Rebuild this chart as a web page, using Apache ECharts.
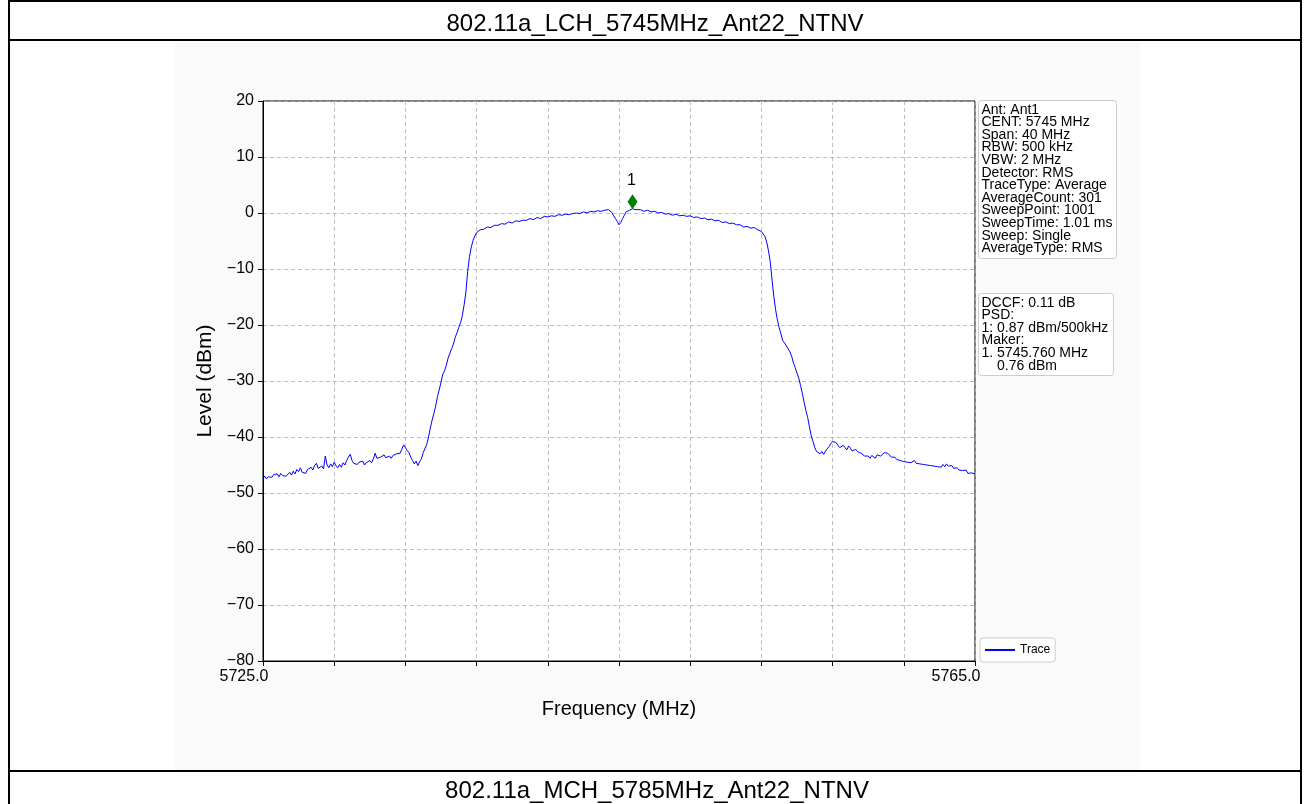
<!DOCTYPE html>
<html>
<head>
<meta charset="utf-8">
<script src="https://cdn.jsdelivr.net/npm/echarts@6/dist/echarts.min.js"></script>
<style>
html,body{margin:0;padding:0;background:#fff;}
#chart{width:1310px;height:804px;}
</style>
</head>
<body>
<div id="chart"></div>
<script>
const titleTop = '802.11a_LCH_5745MHz_Ant22_NTNV';
const titleBottom = '802.11a_MCH_5785MHz_Ant22_NTNV';
const freqStart = 5725.0;
const freqStop = 5765.0;
const yTicks = [-80, -70, -60, -50, -40, -30, -20, -10, 0, 10, 20];
const markerFreq = 5745.76;
const markerLevel = 0.76;
const infoLines1 = ['Ant: Ant1','CENT: 5745 MHz','Span: 40 MHz','RBW: 500 kHz','VBW: 2 MHz','Detector: RMS','TraceType: Average','AverageCount: 301','SweepPoint: 1001','SweepTime: 1.01 ms','Sweep: Single','AverageType: RMS'];
const infoLines2 = ['DCCF: 0.11 dB','PSD:','1: 0.87 dBm/500kHz','Maker:','1. 5745.760 MHz','    0.76 dBm'];

// [frequency MHz, level dBm]
const traceLeftFloor = [
[5725.0,-47.4],[5725.1,-47.0],[5725.2,-47.5],[5725.3,-47.1],[5725.4,-46.8],[5725.5,-47.2],[5725.6,-46.7],[5725.7,-47.0],
[5725.8,-46.6],[5725.9,-47.1],[5726.0,-46.5],[5726.1,-46.9],[5726.2,-46.6],[5726.3,-47.0],[5726.4,-46.7],[5726.5,-46.3],
[5726.6,-46.8],[5726.7,-46.1],[5726.8,-46.6],[5726.9,-45.8],[5727.0,-46.2],[5727.1,-45.5],[5727.2,-46.3],[5727.3,-46.0],
[5727.4,-46.5],[5727.5,-45.8],[5727.6,-46.1],[5727.7,-45.4],[5727.8,-45.9],[5727.9,-45.1],[5728.0,-44.7],[5728.1,-45.6],
[5728.2,-45.9],[5728.3,-45.2],[5728.4,-45.7],[5728.5,-43.4],[5728.6,-45.0],[5728.7,-45.5],[5728.8,-44.8],[5728.9,-45.3],
[5729.0,-44.5],[5729.1,-45.1],[5729.2,-45.5],[5729.3,-44.9],[5729.4,-45.4],[5729.5,-44.6],[5729.6,-45.0],[5729.7,-44.2],
[5729.8,-43.6],[5729.9,-43.1],[5730.0,-44.2],[5730.1,-44.7],[5730.2,-44.4],[5730.3,-44.9],[5730.4,-44.5],[5730.5,-44.8],
[5730.6,-44.3],[5730.7,-45.0],[5730.8,-44.6],[5730.9,-44.9],[5731.0,-44.2],[5731.1,-44.6],[5731.2,-43.9],[5731.3,-42.9],
[5731.4,-43.8],[5731.5,-44.1],[5731.6,-43.6],[5731.7,-43.9],[5731.8,-43.2],[5731.9,-43.7],[5732.0,-43.9],[5732.1,-43.4],
[5732.2,-43.8],[5732.3,-43.3],[5732.4,-43.6],[5732.5,-43.0],[5732.6,-42.7],[5732.7,-42.9],[5732.8,-42.2],[5732.9,-41.4],
[5733.0,-41.9],[5733.1,-42.4],[5733.2,-42.8],[5733.3,-43.6],[5733.4,-44.2],[5733.5,-44.8],[5733.6,-44.3],[5733.7,-45.1],
[5733.8,-44.4],[5733.9,-43.9],[5734.0,-42.8]
];
const traceLeftSkirt = [
[5734.1,-42.9],[5734.2,-41.3],[5734.3,-40.0],[5734.4,-38.4],[5734.5,-37.0],[5734.6,-35.8],[5734.7,-34.5],[5734.8,-32.8],
[5734.9,-31.6],[5735.0,-30.2],[5735.1,-28.8],[5735.2,-28.2],[5735.3,-27.2],[5735.4,-25.9],[5735.5,-25.6],[5735.6,-24.2],
[5735.7,-23.4],[5735.8,-22.2],[5735.9,-21.4],[5736.0,-20.4],[5736.1,-19.6],[5736.2,-18.3],[5736.3,-16.4],[5736.4,-14.1],
[5736.5,-10.4],[5736.6,-7.8],[5736.7,-6.1],[5736.8,-4.9],[5736.9,-4.1]
];
const traceTop = [
[5737.0,-3.5],[5737.2,-3.0],[5737.4,-2.9],[5737.6,-2.5],[5737.8,-2.6],[5738.0,-2.2],[5738.2,-2.2],[5738.4,-1.9],
[5738.6,-2.0],[5738.8,-1.6],[5739.0,-1.8],[5739.2,-1.4],[5739.4,-1.5],[5739.6,-1.3],[5739.8,-1.3],[5740.0,-1.0],
[5740.2,-1.2],[5740.4,-0.8],[5740.6,-1.0],[5740.8,-0.6],[5741.0,-0.7],[5741.2,-0.5],[5741.4,-0.6],[5741.6,-0.3],
[5741.8,-0.4],[5742.0,-0.2],[5742.2,-0.3],[5742.4,-0.1],[5742.6,0.0],[5742.8,-0.1],[5743.0,0.2],[5743.2,0.0],
[5743.4,0.3],[5743.6,0.2],[5743.8,0.4],[5744.0,0.3],[5744.2,0.5],[5744.4,0.6],[5744.5,0.5],[5744.6,0.1],
[5744.7,-0.5],[5744.8,-1.0],[5744.9,-1.5],[5745.0,-2.1],[5745.1,-1.7],[5745.2,-1.0],[5745.3,-0.4],[5745.4,0.2],
[5745.5,0.4],[5745.6,0.5],[5745.76,0.76],[5745.9,0.6],[5746.0,0.5],[5746.2,0.6],[5746.4,0.3],[5746.6,0.5],
[5746.8,0.2],[5747.0,0.3],[5747.2,0.0],[5747.4,0.1],[5747.6,-0.2],[5747.8,-0.1],[5748.0,-0.4],[5748.2,-0.2],
[5748.4,-0.5],[5748.6,-0.4],[5748.8,-0.6],[5749.0,-0.5],[5749.2,-0.8],[5749.4,-0.7],[5749.6,-1.0],[5749.8,-0.9],
[5750.0,-1.2],[5750.2,-1.1],[5750.4,-1.4],[5750.6,-1.3],[5750.8,-1.7],[5751.0,-1.6],[5751.2,-1.9],[5751.4,-1.8],
[5751.6,-2.1],[5751.8,-2.1],[5752.0,-2.5],[5752.2,-2.4],[5752.4,-2.7],[5752.6,-2.6],[5752.8,-3.0],[5753.0,-3.3]
];
const traceRightSkirt = [
[5753.1,-3.6],[5753.2,-4.2],[5753.3,-5.2],[5753.4,-6.8],[5753.5,-8.8],[5753.6,-12.0],[5753.7,-15.0],[5753.8,-17.3],
[5753.9,-19.1],[5754.0,-20.5],[5754.1,-21.6],[5754.2,-22.8],[5754.3,-23.2],[5754.4,-23.7],[5754.5,-24.0],[5754.6,-24.8],
[5754.7,-25.6],[5754.8,-26.8],[5754.9,-27.6],[5755.0,-28.6],[5755.1,-29.5],[5755.2,-30.8],[5755.3,-32.2],[5755.4,-33.8],
[5755.5,-35.3],[5755.6,-36.5],[5755.7,-38.2],[5755.8,-39.8],[5755.9,-40.8]
];
const traceRightFloor = [
[5756.0,-41.9],[5756.1,-42.6],[5756.2,-42.3],[5756.3,-43.0],[5756.4,-42.6],[5756.5,-43.1],[5756.6,-42.5],[5756.7,-42.2],
[5756.8,-41.7],[5756.9,-41.2],[5757.0,-40.8],[5757.1,-40.5],[5757.2,-41.0],[5757.3,-41.5],[5757.4,-41.9],[5757.5,-42.1],
[5757.6,-41.5],[5757.7,-41.9],[5757.8,-42.3],[5757.9,-41.6],[5758.0,-42.0],[5758.1,-42.5],[5758.2,-42.7],[5758.3,-42.2],
[5758.4,-42.6],[5758.5,-42.4],[5758.6,-42.9],[5758.7,-43.1],[5758.8,-43.4],[5758.9,-43.7],[5759.0,-43.4],[5759.1,-43.8],
[5759.2,-43.3],[5759.3,-43.6],[5759.4,-43.8],[5759.5,-43.2],[5759.6,-43.0],[5759.7,-43.4],[5759.8,-43.1],[5759.9,-42.8],
[5760.0,-42.5],[5760.1,-42.9],[5760.2,-43.2],[5760.3,-43.6],[5760.4,-43.9],[5760.5,-43.6],[5760.6,-44.0],[5760.7,-43.8],
[5760.8,-44.2],[5760.9,-44.0],[5761.0,-44.4],[5761.1,-44.1],[5761.2,-44.5],[5761.3,-44.2],[5761.4,-44.6],[5761.5,-44.3],
[5761.6,-44.2],[5761.7,-44.7],[5761.8,-44.4],[5761.9,-44.8],[5762.0,-44.5],[5762.1,-44.9],[5762.2,-44.6],[5762.3,-45.0],
[5762.4,-44.7],[5762.5,-45.1],[5762.6,-44.8],[5762.7,-45.2],[5762.8,-44.9],[5762.9,-45.3],[5763.0,-45.0],[5763.1,-45.4],
[5763.2,-44.9],[5763.3,-45.3],[5763.4,-44.8],[5763.5,-45.2],[5763.6,-45.4],[5763.7,-45.1],[5763.8,-45.6],[5763.9,-45.3],
[5764.0,-45.5],[5764.1,-45.9],[5764.2,-45.6],[5764.3,-46.0],[5764.4,-46.2],[5764.5,-45.9],[5764.6,-46.5],[5764.7,-46.2],
[5764.8,-46.4],[5764.9,-46.1],[5765.0,-46.6]
];

const FONT = '"Liberation Sans", Arial, sans-serif';
const chart = echarts.init(document.getElementById('chart'), null, {renderer: 'canvas'});
const span = freqStop - freqStart;
const trace = [].concat(traceLeftFloor, traceLeftSkirt, traceTop, traceRightSkirt, traceRightFloor);
const seriesData = trace.map(p => [p[0] - freqStart, p[1]]);
const fmtY = v => (v < 0 ? '\u2212' + Math.abs(v) : String(v));

function infoBox(x, y, w, h, lines) {
  return {
    type: 'group', left: x, top: y,
    children: [
      {type: 'rect', shape: {x: 0, y: 0, width: w, height: h, r: 3}, style: {fill: '#fff', stroke: '#cccccc', lineWidth: 1}},
      {type: 'text', x: 3, y: 3, style: {text: lines.join('\n'), font: '14px ' + FONT, lineHeight: 12.6, fill: '#000'}}
    ]
  };
}

const option = {
  animation: false,
  backgroundColor: '#ffffff',
  graphic: [
    {type: 'rect', shape: {x: 175, y: 42, width: 965, height: 728}, style: {fill: '#fafafa'}, z: -10},
    {type: 'line', shape: {x1: 9, y1: 1, x2: 1301, y2: 1}, style: {stroke: '#000', lineWidth: 2}},
    {type: 'line', shape: {x1: 9, y1: 0, x2: 9, y2: 804}, style: {stroke: '#000', lineWidth: 2}},
    {type: 'line', shape: {x1: 1301, y1: 0, x2: 1301, y2: 804}, style: {stroke: '#000', lineWidth: 2}},
    {type: 'line', shape: {x1: 9, y1: 40, x2: 1301, y2: 40}, style: {stroke: '#000', lineWidth: 2}},
    {type: 'line', shape: {x1: 9, y1: 771, x2: 1301, y2: 771}, style: {stroke: '#000', lineWidth: 2}},
    {type: 'text', x: 655, y: 24, style: {text: titleTop, font: '24px ' + FONT, fill: '#000', align: 'center', verticalAlign: 'middle'}},
    {type: 'text', x: 657, y: 791, style: {text: titleBottom, font: '24px ' + FONT, fill: '#000', align: 'center', verticalAlign: 'middle'}},
    infoBox(978, 100, 138, 158, infoLines1),
    infoBox(978, 293, 135, 82, infoLines2)
  ],
  grid: {left: 263, top: 101, width: 712, height: 560, show: true, backgroundColor: '#ffffff', borderColor: '#000', borderWidth: 1},
  legend: {
    show: true, left: 980, top: 638, orient: 'vertical',
    padding: [6, 5, 6, 5], borderColor: '#cccccc', borderWidth: 1, borderRadius: 3, backgroundColor: '#fff',
    itemWidth: 30, itemHeight: 2, itemGap: 4,
    textStyle: {fontFamily: FONT, fontSize: 12, color: '#000'},
    data: [{name: 'Trace', icon: 'rect'}]
  },
  xAxis: {
    type: 'value', min: 0, max: span, interval: 4,
    name: 'Frequency (MHz)', nameLocation: 'middle', nameGap: 38,
    nameTextStyle: {fontFamily: FONT, fontSize: 20, color: '#000'},
    axisLine: {show: true, onZero: false, lineStyle: {color: '#000', width: 1}},
    axisTick: {show: true, inside: false, length: 5, lineStyle: {color: '#000'}},
    axisLabel: {
      fontFamily: FONT, fontSize: 16, color: '#000', margin: 8, showMinLabel: true, showMaxLabel: true,
      padding: [0, 38, 0, 0],
      formatter: v => (v === 0 || v === span) ? (freqStart + v).toFixed(1) : ''
    },
    splitLine: {show: true, lineStyle: {color: '#b0b0b0', type: [4, 3], width: 0.8}}
  },
  yAxis: {
    type: 'value', min: yTicks[0], max: yTicks[yTicks.length - 1], interval: 10,
    name: 'Level (dBm)', nameLocation: 'middle', nameGap: 45,
    nameTextStyle: {fontFamily: FONT, fontSize: 21, color: '#000'},
    axisLine: {show: true, onZero: false, lineStyle: {color: '#000', width: 1}},
    axisTick: {show: true, inside: false, length: 5, lineStyle: {color: '#000'}},
    axisLabel: {fontFamily: FONT, fontSize: 16, color: '#000', margin: 9, formatter: fmtY},
    splitLine: {show: true, lineStyle: {color: '#b0b0b0', type: [4, 3], width: 0.8}}
  },
  series: [
    {
      name: 'Trace', type: 'line', data: seriesData, showSymbol: false, symbol: 'none',
      lineStyle: {color: '#0000ff', width: 1}, itemStyle: {color: '#0000ff'}, z: 3
    },
    {
      name: 'Marker', type: 'scatter', data: [[markerFreq - freqStart, markerLevel]],
      symbol: 'diamond', symbolSize: [10, 15], symbolOffset: [0, -7],
      itemStyle: {color: '#008000', opacity: 1}, z: 5,
      label: {show: true, formatter: '1', position: 'top', distance: 0, offset: [-1, -6], fontFamily: FONT, fontSize: 16, color: '#000'}
    }
  ]
};
chart.setOption(option);
</script>
</body>
</html>
